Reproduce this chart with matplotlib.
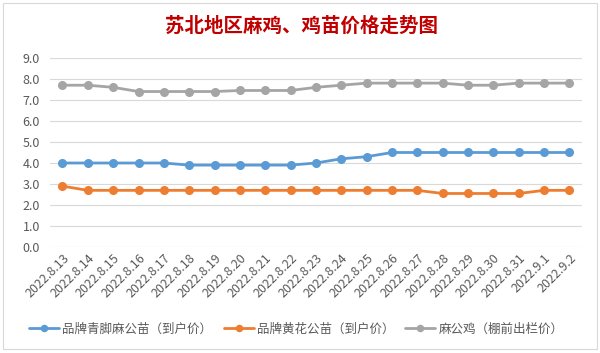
import matplotlib

matplotlib.use("Agg")
import matplotlib.pyplot as plt

plt.rcParams["font.family"] = ["Noto Sans CJK SC", "DejaVu Sans"]

dates = [
    "2022.8.13", "2022.8.14", "2022.8.15", "2022.8.16", "2022.8.17", "2022.8.18",
    "2022.8.19", "2022.8.20", "2022.8.21", "2022.8.22", "2022.8.23", "2022.8.24",
    "2022.8.25", "2022.8.26", "2022.8.27", "2022.8.28", "2022.8.29", "2022.8.30",
    "2022.8.31", "2022.9.1", "2022.9.2",
]
qingjiao = [4.0, 4.0, 4.0, 4.0, 4.0, 3.9, 3.9, 3.9, 3.9, 3.9, 4.0, 4.2, 4.3,
            4.5, 4.5, 4.5, 4.5, 4.5, 4.5, 4.5, 4.5]
huanghua = [2.9, 2.7, 2.7, 2.7, 2.7, 2.7, 2.7, 2.7, 2.7, 2.7, 2.7, 2.7, 2.7,
            2.7, 2.7, 2.55, 2.55, 2.55, 2.55, 2.7, 2.7]
magongji = [7.7, 7.7, 7.6, 7.4, 7.4, 7.4, 7.4, 7.45, 7.45, 7.45, 7.6, 7.7, 7.8,
            7.8, 7.8, 7.8, 7.7, 7.7, 7.8, 7.8, 7.8]
series_names = ["品牌青脚麻公苗（到户价）", "品牌黄花公苗（到户价）", "麻公鸡（棚前出栏价）"]
y_ticks = [0.0, 1.0, 2.0, 3.0, 4.0, 5.0, 6.0, 7.0, 8.0, 9.0]

colors = ["#5B9BD5", "#ED7D31", "#A5A5A5"]

fig = plt.figure(figsize=(6.0, 3.53), dpi=100)
ax = fig.add_axes([0.083, 0.300, 0.887, 0.536])

x = list(range(len(dates)))
lines = []
for values, name, color in zip([qingjiao, huanghua, magongji], series_names, colors):
    (ln,) = ax.plot(x, values, color=color, linewidth=2.0, marker="o", markersize=5.5,
                    label=name, solid_capstyle="round")
    lines.append(ln)

ax.set_xlim(-0.5, len(dates) - 0.5)
ax.set_ylim(0, 9.0)
ax.set_yticks(y_ticks)
ax.set_yticklabels([f"{v:.1f}" for v in y_ticks])
ax.set_xticks(x)
ax.set_xticklabels(dates, rotation=45, ha="right", rotation_mode="anchor")
ax.tick_params(axis="both", length=0, labelsize=9, colors="#595959")
ax.tick_params(axis="y", pad=7)
ax.tick_params(axis="x", pad=3)
ax.grid(axis="y", color="#D9D9D9", linewidth=0.8)
ax.set_axisbelow(True)
for spine in ax.spines.values():
    spine.set_visible(False)

fig.text(0.502, 0.926, "苏北地区麻鸡、鸡苗价格走势图", ha="center", va="center",
         fontsize=14, fontweight="bold", color="#C00000")

leg = fig.legend(lines, series_names, loc="center", bbox_to_anchor=(0.494, 0.068), ncol=3,
                 frameon=False, fontsize=9, labelcolor="#595959", handlelength=2.4,
                 columnspacing=0.9, handletextpad=0.25, markerscale=0.8)

fig.patches.append(plt.Rectangle((0.005, 0.011), 0.99, 0.98, transform=fig.transFigure,
                                 fill=False, edgecolor="#D9D9D9", linewidth=0.8))

fig.savefig("out.png", dpi=100)
plt.close(fig)
